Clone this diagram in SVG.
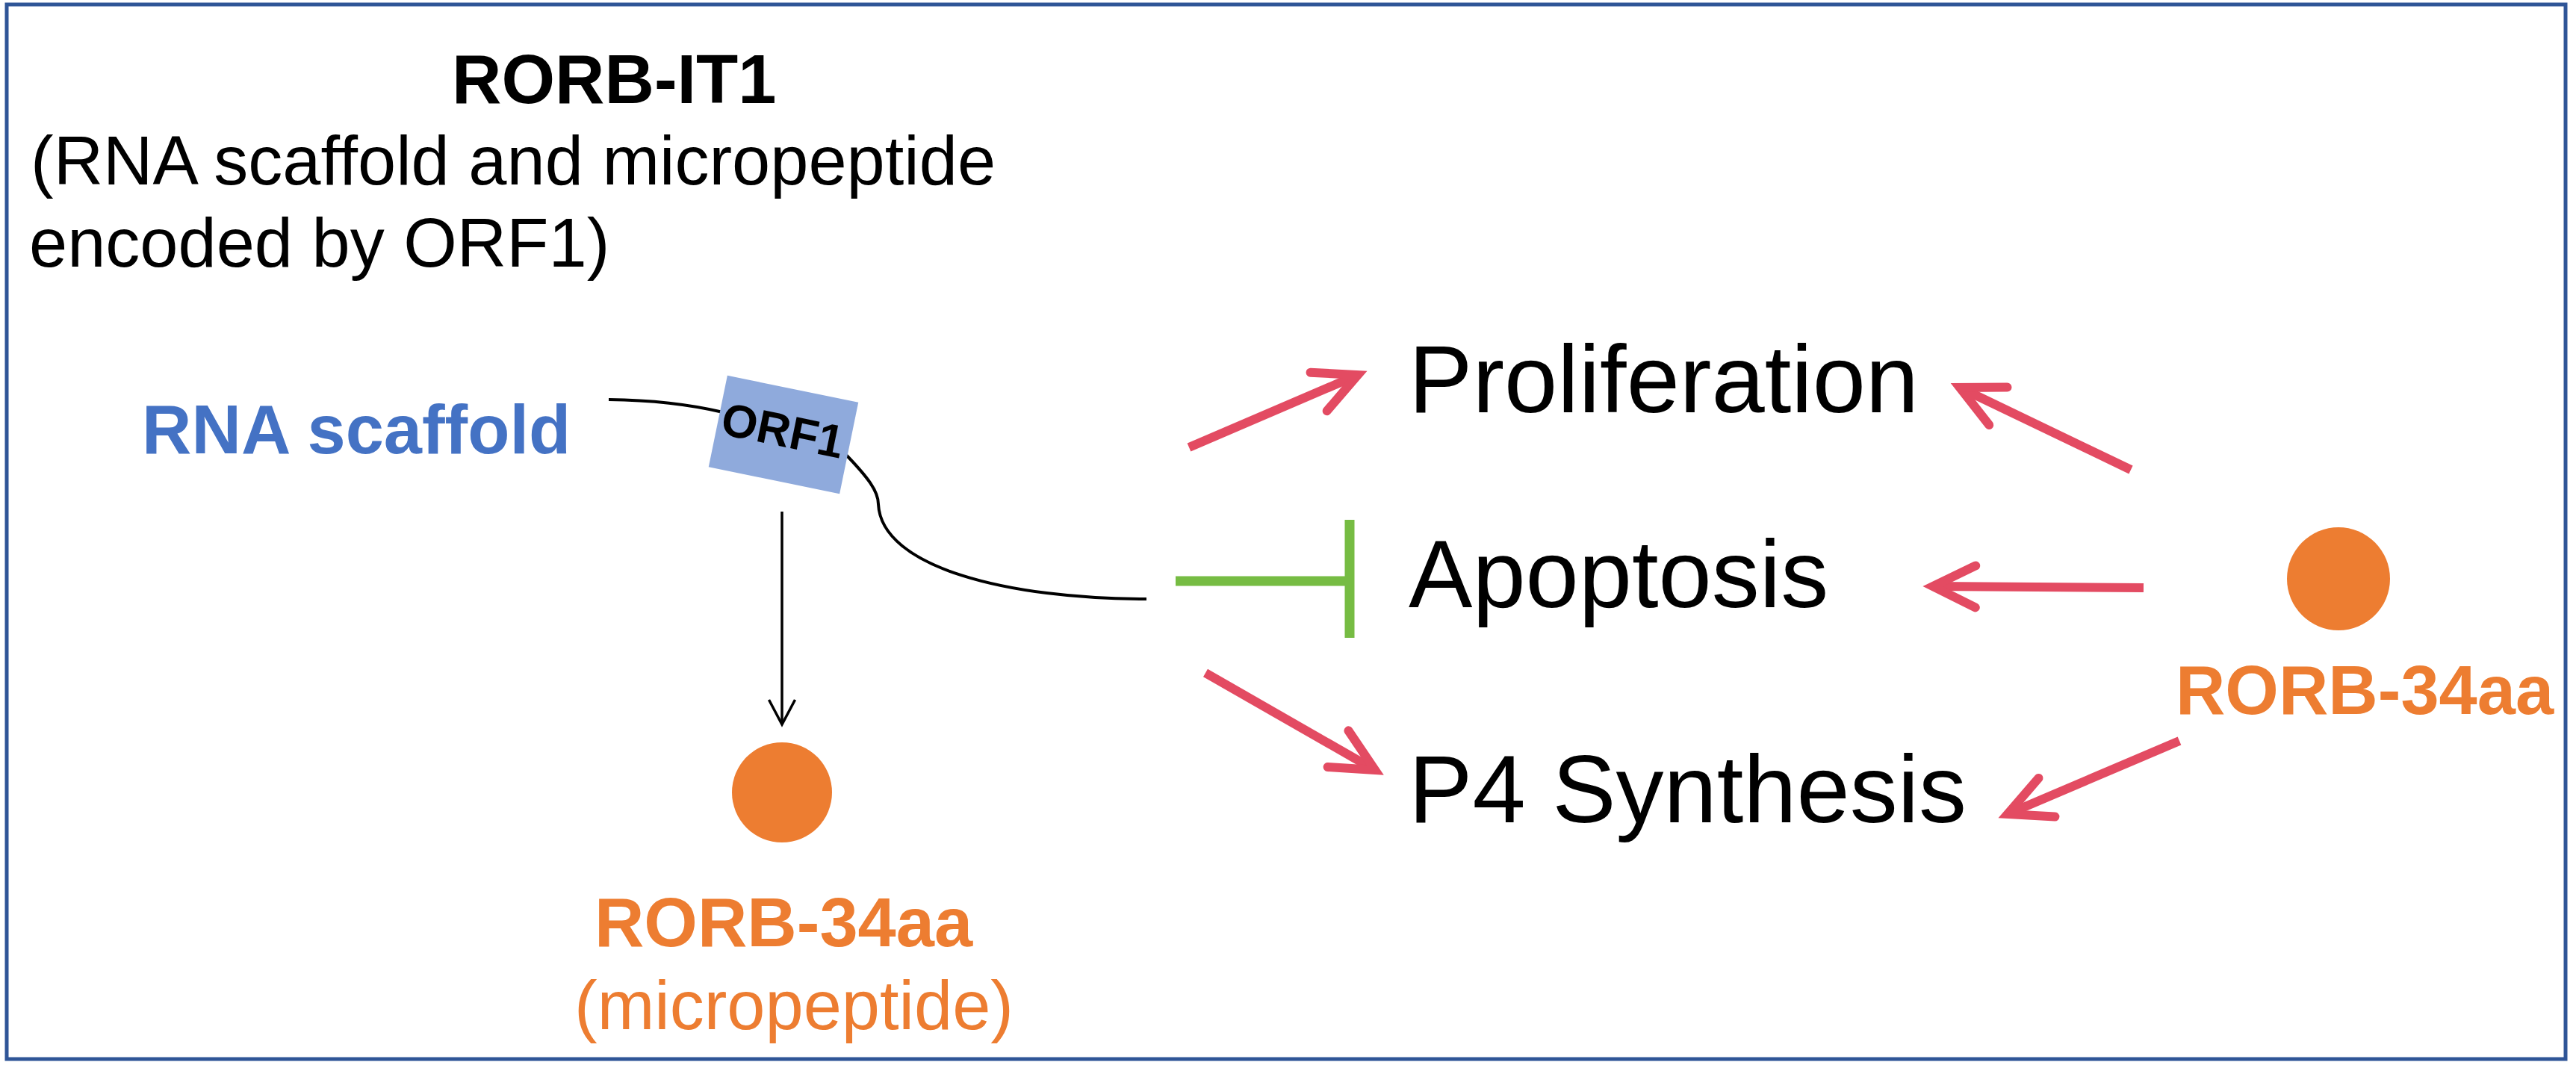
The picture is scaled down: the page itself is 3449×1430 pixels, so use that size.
<svg xmlns="http://www.w3.org/2000/svg" width="3449" height="1430" viewBox="0 0 3449 1430">
<style>
  text{font-family:"Liberation Sans",Arial,Helvetica,sans-serif}
  .b{font-weight:bold}
  .blk{fill:#000}
  .blue{fill:#4472C4}
  .org{fill:#ED7D31}
  .t92{font-size:92px}
  .big{font-size:128px}
  .red{fill:none;stroke:#E34B62;stroke-width:12;marker-end:url(#ra)}
  .inh{fill:none;stroke:#76BC43;stroke-width:13}
  .rna{fill:none;stroke:#000;stroke-width:4}
</style>
<defs>
  <marker id="ra" markerUnits="userSpaceOnUse" orient="auto" markerWidth="10" markerHeight="10" refX="0" refY="0" overflow="visible">
    <path d="M-57,-28 L0,0 L-57,28" fill="none" stroke="#E34B62" stroke-width="12" stroke-linecap="round" stroke-linejoin="miter" stroke-miterlimit="10"/>
  </marker>
  <marker id="ba" markerUnits="userSpaceOnUse" orient="auto" markerWidth="10" markerHeight="10" refX="0" refY="0" overflow="visible">
    <path d="M-33,-17.5 L0,0 L-33,17.5" fill="none" stroke="#000" stroke-width="3.5" stroke-linejoin="miter" stroke-miterlimit="10"/>
  </marker>
</defs>
<rect x="0" y="0" width="3449" height="1430" fill="#fff"/>
<rect x="9" y="6" width="3426" height="1412" fill="none" stroke="#2F5597" stroke-width="5"/>

<g id="connectors">
  <path class="rna" d="M815,535 Q900,536 968,552"/>
  <path class="rna" d="M1130,606 C1163,640 1176,658 1176,675 C1180,760 1350,802 1535,802"/>
  <line x1="1047" y1="685" x2="1047" y2="970" stroke="#000" stroke-width="3.5" marker-end="url(#ba)"/>
  <line class="red" x1="1592" y1="599" x2="1818" y2="502"/>
  <line class="red" x1="1614" y1="901" x2="1841" y2="1031"/>
  <line class="red" x1="2853" y1="629" x2="2624" y2="519"/>
  <line class="red" x1="2870" y1="787" x2="2588" y2="785"/>
  <line class="red" x1="2918" y1="992" x2="2688" y2="1090"/>
  <g id="inhibition">
    <line class="inh" x1="1574" y1="778" x2="1807" y2="778"/>
    <line class="inh" x1="1807" y1="696" x2="1807" y2="854"/>
  </g>
</g>

<g id="title">
  <text class="b blk t92" x="605" y="138">RORB-IT1</text>
  <text class="blk t92" x="41" y="247">(RNA scaffold and micropeptide</text>
  <text class="blk t92" x="39" y="357">encoded by ORF1)</text>
</g>

<g id="rna-scaffold">
  <text class="b blue t92" x="190" y="607">RNA scaffold</text>
</g>

<g id="orf1" transform="translate(1049,582) rotate(11.6)">
  <rect x="-89.5" y="-62.5" width="179" height="125" fill="#8FAADC"/>
  <text class="b blk" font-size="62" x="-2" y="16" text-anchor="middle">ORF1</text>
</g>

<g id="rorb34aa-micropeptide">
  <circle cx="1047" cy="1061" r="67" class="org"/>
  <text class="b org t92" x="1049" y="1267" text-anchor="middle">RORB-34aa</text>
  <text class="org t92" x="1063" y="1378" text-anchor="middle">(micropeptide)</text>
</g>

<g id="proliferation">
  <text class="blk big" x="1886" y="552">Proliferation</text>
</g>
<g id="apoptosis">
  <text class="blk big" x="1886" y="813">Apoptosis</text>
</g>
<g id="p4-synthesis">
  <text class="blk big" x="1886" y="1101">P4 Synthesis</text>
</g>

<g id="rorb34aa-right">
  <circle cx="3131" cy="775" r="69" class="org"/>
  <text class="b org t92" x="3166" y="956" text-anchor="middle">RORB-34aa</text>
</g>
</svg>
